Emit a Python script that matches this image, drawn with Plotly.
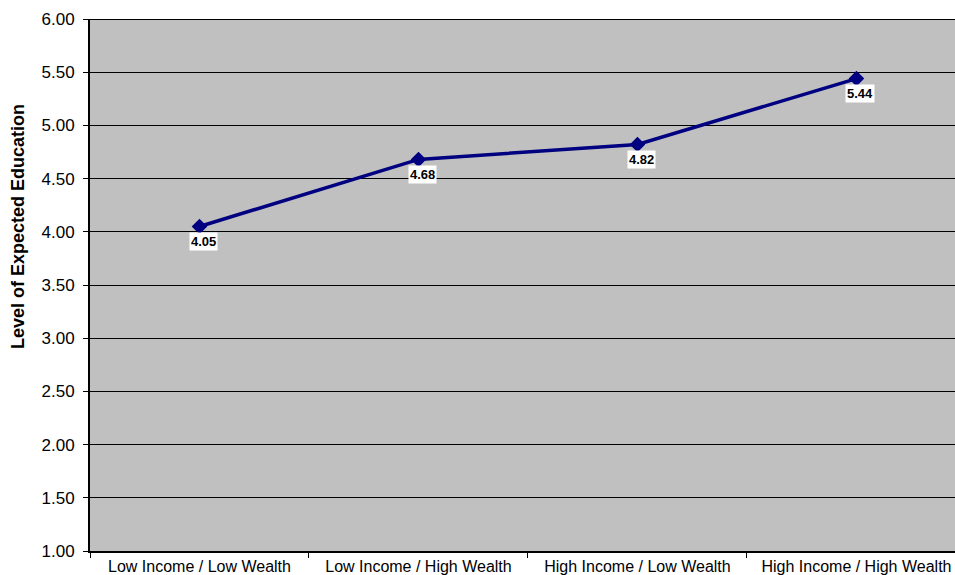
import plotly.graph_objects as go

categories = ["Low Income / Low Wealth", "Low Income / High Wealth",
              "High Income / Low Wealth", "High Income / High Wealth"]
values = [4.05, 4.68, 4.82, 5.44]
tick_vals = [1.0, 1.5, 2.0, 2.5, 3.0, 3.5, 4.0, 4.5, 5.0, 5.5, 6.0]
tick_text = [f"{v:.2f}" for v in tick_vals]
y_title = "Level of Expected Education"

fig = go.Figure()
fig.add_trace(go.Scatter(
    x=categories, y=values, mode="lines+markers",
    line=dict(color="#000080", width=3.5),
    marker=dict(symbol="diamond", size=12, color="#000080"),
    showlegend=False, cliponaxis=False,
))

for c, v in zip(categories, values):
    fig.add_annotation(x=c, y=v, text=f"<b>{v:.2f}</b>", showarrow=False,
                       xshift=4, yshift=-15, bgcolor="white", borderpad=1,
                       font=dict(family="Liberation Sans, Arial", size=13, color="black"))

# y-axis title (placed as in the reference, above the axis centre)
fig.add_annotation(xref="paper", yref="paper", x=0, y=0.609, xshift=-72,
                   text=f"<b>{y_title}</b>", textangle=-90, showarrow=False,
                   xanchor="center", yanchor="middle",
                   font=dict(family="Liberation Sans, Arial", size=18, color="black"))

# top border
fig.add_shape(type="line", xref="paper", yref="y", x0=0, x1=1, y0=6, y1=6,
              line=dict(color="black", width=2))

fig.update_layout(
    width=955, height=575,
    margin=dict(l=90, r=0, t=19, b=24),
    paper_bgcolor="white", plot_bgcolor="#C0C0C0",
    font=dict(family="Liberation Sans, Arial", color="black"),
    xaxis=dict(
        type="category", range=[-0.5, 3.45],
        showgrid=False, showline=True, linecolor="black", linewidth=2,
        ticks="outside", tickson="boundaries", ticklen=5, tickcolor="black",
        tickfont=dict(size=16), zeroline=False,
    ),
    yaxis=dict(
        range=[1, 6], tickvals=tick_vals, ticktext=tick_text,
        showgrid=True, gridcolor="black", gridwidth=1,
        showline=True, linecolor="black", linewidth=2,
        ticks="outside", ticklen=5, tickcolor="black", ticklabelstandoff=5,
        tickfont=dict(size=17), zeroline=False,
    ),
)

fig.write_html("out.html")
